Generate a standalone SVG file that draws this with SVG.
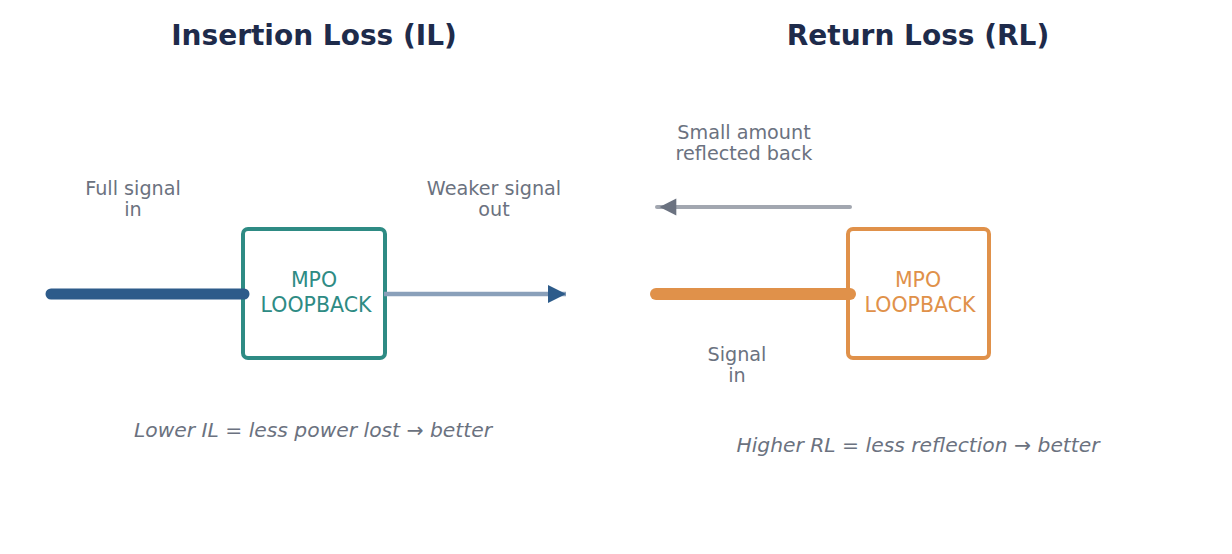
<svg xmlns="http://www.w3.org/2000/svg" width="1232" height="554" viewBox="0 0 1232 554">
<style>
.title{font-family:"DejaVu Sans",sans-serif;font-weight:bold;font-size:28px;fill:#1e2b4b;text-anchor:middle}
.lbl{font-family:"DejaVu Sans",sans-serif;font-size:19.2px;fill:#6b7280;text-anchor:middle}
.note{font-family:"DejaVu Sans",sans-serif;font-size:20.3px;font-style:italic;fill:#6b7280;text-anchor:middle}
.box{fill:#ffffff;stroke-width:4}
.btxt{font-family:"DejaVu Sans",sans-serif;font-size:20.5px;text-anchor:middle}
</style>
<defs>
<marker id="arrB" viewBox="0 0 10 10" refX="10" refY="5" markerWidth="4" markerHeight="4" orient="auto" markerUnits="strokeWidth"><path d="M0,0 L10,5 L0,10 z" fill="#2d5b8a"/></marker>
<marker id="arrG" viewBox="0 0 10 10" refX="11.5" refY="5" markerWidth="4.2" markerHeight="4.2" orient="auto" markerUnits="strokeWidth" overflow="visible"><path d="M0,0 L10,5 L0,10 z" fill="#6b7280"/></marker>
</defs>
<rect width="1232" height="554" fill="#ffffff"/>
<text class="title" x="314" y="45">Insertion Loss (IL)</text>
<text class="title" x="918" y="45">Return Loss (RL)</text>
<g id="il-box">
<rect class="box" x="243" y="229" width="142" height="129" rx="5" stroke="#2e8b84"/>
<text class="btxt" x="314" y="287" fill="#2e8b84">MPO</text>
<text class="btxt" x="316" y="312" fill="#2e8b84">LOOPBACK</text>
</g>
<g id="rl-box">
<rect class="box" x="848" y="229" width="141" height="129" rx="5" stroke="#e0914a"/>
<text class="btxt" x="918" y="287" fill="#e0914a">MPO</text>
<text class="btxt" x="920" y="312" fill="#e0914a">LOOPBACK</text>
</g>
<g id="connectors">
<line x1="51" y1="294" x2="244" y2="294" stroke="#2d5b8a" stroke-width="11" stroke-linecap="round"/>
<line x1="384" y1="294" x2="566" y2="294" stroke="#8aa0ba" stroke-width="4.5" marker-end="url(#arrB)"/>
<line x1="656" y1="294" x2="850" y2="294" stroke="#e0914a" stroke-width="12" stroke-linecap="round"/>
<line x1="850" y1="207" x2="657" y2="207" stroke="#a2a7b0" stroke-width="4" stroke-linecap="round" marker-end="url(#arrG)"/>
</g>
<g id="labels">
<text class="lbl" x="133" y="195">Full signal</text>
<text class="lbl" x="133" y="216">in</text>
<text class="lbl" x="494" y="195">Weaker signal</text>
<text class="lbl" x="494" y="216">out</text>
<text class="lbl" x="744" y="139">Small amount</text>
<text class="lbl" x="744" y="160">reflected back</text>
<text class="lbl" x="737" y="361">Signal</text>
<text class="lbl" x="737" y="382">in</text>
<text class="note" x="313" y="437">Lower IL = less power lost → better</text>
<text class="note" x="918" y="452">Higher RL = less reflection → better</text>
</g>
</svg>
